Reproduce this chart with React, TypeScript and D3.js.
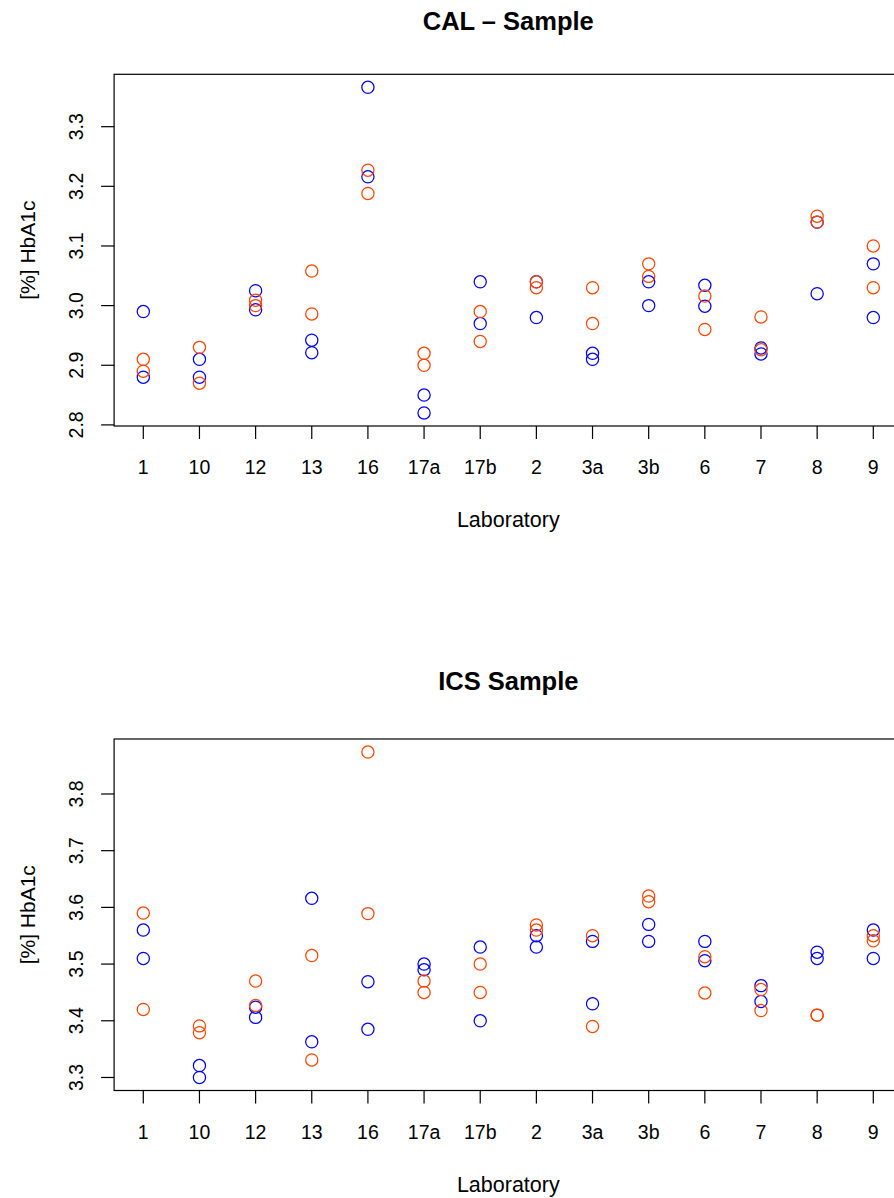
import React from "react";
import * as d3 from "d3";

const labs = ["1", "10", "12", "13", "16", "17a", "17b", "2", "3a", "3b", "6", "7", "8", "9"];

// CAL – Sample: two replicate values per lab, per series
const calBlue = [
  [2.99, 2.88], [2.91, 2.88], [3.025, 2.993], [2.942, 2.921], [3.366, 3.216], [2.85, 2.82], [3.04, 2.97],
  [3.04, 2.98], [2.92, 2.91], [3.04, 3.0], [3.034, 2.999], [2.929, 2.919], [3.14, 3.02], [3.07, 2.98],
];
const calRed = [
  [2.91, 2.89], [2.93, 2.87], [3.009, 3.0], [3.058, 2.986], [3.227, 3.188], [2.92, 2.9], [2.99, 2.94],
  [3.04, 3.03], [3.03, 2.97], [3.07, 3.049], [3.016, 2.96], [2.981, 2.926], [3.15, 3.14], [3.1, 3.03],
];

// ICS Sample
const icsBlue = [
  [3.56, 3.51], [3.321, 3.3], [3.424, 3.406], [3.616, 3.363], [3.469, 3.385], [3.5, 3.49], [3.53, 3.4],
  [3.55, 3.53], [3.54, 3.43], [3.57, 3.54], [3.54, 3.506], [3.462, 3.434], [3.521, 3.51], [3.56, 3.51],
];
const icsRed = [
  [3.59, 3.42], [3.391, 3.379], [3.47, 3.427], [3.515, 3.331], [3.874, 3.589], [3.47, 3.45], [3.5, 3.45],
  [3.569, 3.56], [3.55, 3.39], [3.62, 3.61], [3.513, 3.449], [3.455, 3.418], [3.41, 3.41], [3.55, 3.541],
];

const calTicks = [2.8, 2.9, 3.0, 3.1, 3.2, 3.3];
const icsTicks = [3.3, 3.4, 3.5, 3.6, 3.7, 3.8];

const FONT = "'Liberation Sans', Arial, Helvetica, sans-serif";
const BLUE = "#0000FF";
const RED = "#FF4500";

const W = 894;
const H = 1198;
const LEFT = 114.1;
const RIGHT = 902.5;

type PanelProps = {
  title: string;
  blue: number[][];
  red: number[][];
  ticks: number[];
  top: number;
  bottom: number;
  titleY: number;
};

function padExtent(vals: number[], f = 0.04): [number, number] {
  const [lo, hi] = d3.extent(vals) as [number, number];
  const d = (hi - lo) * f;
  return [lo - d, hi + d];
}

function Panel({ title, blue, red, ticks, top, bottom, titleY }: PanelProps) {
  const x = d3.scaleLinear().domain([1 - 0.52, labs.length + 0.52]).range([LEFT, RIGHT]);
  const all = [...blue.flat(), ...red.flat()];
  const y = d3.scaleLinear().domain(padExtent(all)).range([bottom, top]);
  const midX = (LEFT + RIGHT) / 2;
  const midY = (top + bottom) / 2;
  const tickLen = 13;
  const pts = (vals: number[][], color: string) =>
    vals.flatMap((pair, i) =>
      pair.map((v, j) => (
        <circle key={`${color}-${i}-${j}`} cx={x(i + 1)} cy={y(v)} r={6.1} fill="none" stroke={color} strokeWidth={1.25} />
      ))
    );
  return (
    <g fontFamily={FONT} fill="#000">
      <text x={midX} y={titleY} textAnchor="middle" fontWeight="bold" fontSize={25.5}>
        {title}
      </text>
      <rect x={LEFT} y={top} width={RIGHT - LEFT} height={bottom - top} fill="none" stroke="#000" strokeWidth={1.2} />
      {ticks.map((t) => (
        <g key={`yt-${t}`}>
          <line x1={LEFT - tickLen} x2={LEFT} y1={y(t)} y2={y(t)} stroke="#000" strokeWidth={1.2} />
          <text transform={`translate(${83},${y(t)}) rotate(-90)`} textAnchor="middle" fontSize={19.5}>
            {t.toFixed(1)}
          </text>
        </g>
      ))}
      <text transform={`translate(${35},${midY}) rotate(-90)`} textAnchor="middle" fontSize={21}>
        [%] HbA1c
      </text>
      {labs.map((lab, i) => (
        <g key={`xt-${lab}`}>
          <line x1={x(i + 1)} x2={x(i + 1)} y1={bottom} y2={bottom + tickLen} stroke="#000" strokeWidth={1.2} />
          <text x={x(i + 1)} y={bottom + 48} textAnchor="middle" fontSize={19.5}>
            {lab}
          </text>
        </g>
      ))}
      <text x={midX} y={bottom + 101} textAnchor="middle" fontSize={21.5}>
        Laboratory
      </text>
      {pts(blue, BLUE)}
      {pts(red, RED)}
    </g>
  );
}

export default function App() {
  return (
    <svg
      width={W}
      height={H}
      viewBox={`0 0 ${W} ${H}`}
      style={{ position: "absolute", left: 0, top: 0, display: "block", background: "#fff" }}
    >
      <rect x={0} y={0} width={W} height={H} fill="#fff" />
      <Panel title="CAL – Sample" blue={calBlue} red={calRed} ticks={calTicks} top={74.3} bottom={426} titleY={29.5} />
      <Panel title="ICS Sample" blue={icsBlue} red={icsRed} ticks={icsTicks} top={739} bottom={1090.5} titleY={690} />
    </svg>
  );
}
